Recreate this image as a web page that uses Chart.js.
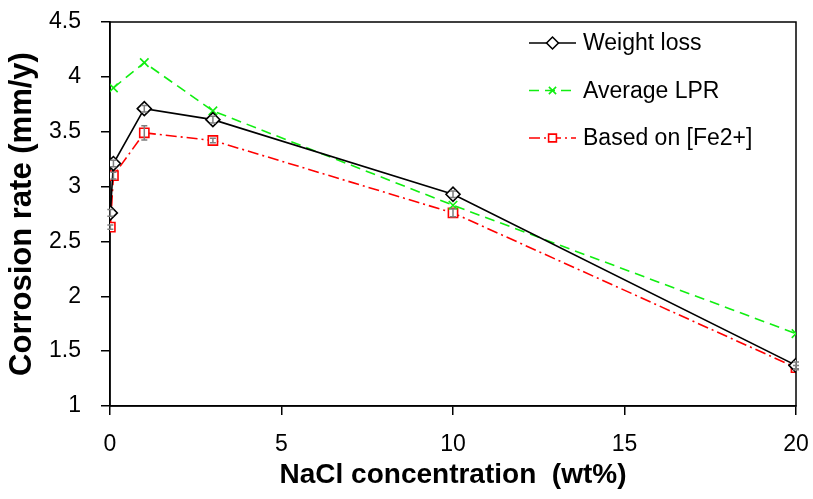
<!DOCTYPE html>
<html>
<head>
<meta charset="utf-8">
<script src="https://cdn.jsdelivr.net/npm/chart.js@4/dist/chart.umd.min.js"></script>
<style>
  html, body { margin: 0; padding: 0; background: #fff; }
  #wrap { width: 813px; height: 499px; }
</style>
</head>
<body>
<div id="wrap"><canvas id="c"></canvas></div>
<script>
// NaCl concentration (wt%) for each measurement
const concentrations = [0.01, 0.1, 1, 3, 10, 20];
const lprConcentrations = [0.1, 1, 3, 10, 20];

// Corrosion rates (mm/y)
const weightLoss = [2.76, 3.21, 3.71, 3.61, 2.93, 1.37];
const weightLossErr = [0.03, 0.03, 0.03, 0.03, 0.03, 0.03];
const averageLPR = [3.90, 4.13, 3.69, 2.83, 1.66];
const basedOnFe = [2.63, 3.10, 3.49, 3.42, 2.76, 1.35];
const basedOnFeErr = [0.02, 0.03, 0.065, 0.02, 0.035, 0.02];

const seriesLabels = ['Weight loss', 'Average LPR', 'Based on [Fe2+]'];
const xTicks = [0, 5, 10, 15, 20];
const yTicks = [1, 1.5, 2, 2.5, 3, 3.5, 4, 4.5];

const xTitle = 'NaCl concentration  (wt%)';
const yTitle = 'Corrosion rate (mm/y)';

const FONT = "'Liberation Sans', Arial, sans-serif";
const GREEN = '#11ee11';

const toPoints = (xs, ys) => xs.map((x, i) => ({ x: x, y: ys[i] }));

// Box around the plotting area
const frame = {
  id: 'frame',
  beforeDatasetsDraw(chart) {
    const { ctx, chartArea: a } = chart;
    ctx.save();
    ctx.strokeStyle = '#000';
    ctx.lineWidth = 1.5;
    ctx.strokeRect(a.left, a.top, a.right - a.left, a.bottom - a.top);
    ctx.restore();
  }
};

// Vertical error bars with caps, drawn over the markers
const errorBars = {
  id: 'errorBars',
  afterDatasetsDraw(chart) {
    const { ctx } = chart;
    const yScale = chart.scales.y;
    ctx.save();
    ctx.strokeStyle = '#7f7f7f';
    ctx.lineWidth = 1.5;
    chart.data.datasets.forEach((ds, di) => {
      if (!ds.errors) return;
      const meta = chart.getDatasetMeta(di);
      meta.data.forEach((pt, j) => {
        const e = ds.errors[j];
        const v = ds.data[j].y;
        const y1 = yScale.getPixelForValue(v + e);
        const y2 = yScale.getPixelForValue(v - e);
        ctx.beginPath();
        ctx.moveTo(pt.x, y1); ctx.lineTo(pt.x, y2);
        ctx.moveTo(pt.x - 3, y1); ctx.lineTo(pt.x + 3, y1);
        ctx.moveTo(pt.x - 3, y2); ctx.lineTo(pt.x + 3, y2);
        ctx.stroke();
      });
    });
    ctx.restore();
  }
};

// Legend placed inside the upper right corner of the plot
const insideLegend = {
  id: 'insideLegend',
  afterDraw(chart) {
    const { ctx, chartArea: a } = chart;
    ctx.save();
    chart.data.datasets.forEach((ds, i) => {
      const y = a.top + 21 + i * 47.5;
      const x0 = a.right - 267, x1 = a.right - 220, xm = (x0 + x1) / 2;
      ctx.strokeStyle = ds.borderColor;
      ctx.lineWidth = ds.borderWidth;
      ctx.setLineDash(ds.borderDash || []);
      ctx.beginPath();
      ctx.moveTo(x0, y); ctx.lineTo(x1, y);
      ctx.stroke();
      ctx.setLineDash([]);
      ctx.fillStyle = ds.pointBackgroundColor;
      ctx.strokeStyle = ds.pointBorderColor;
      ctx.lineWidth = ds.pointBorderWidth;
      Chart.helpers.drawPoint(ctx, {
        pointStyle: ds.pointStyle,
        radius: ds.pointRadius * 0.85,
        rotation: 0,
        borderWidth: ds.pointBorderWidth
      }, xm, y);
      ctx.fillStyle = '#000';
      ctx.font = "23px " + FONT;
      ctx.textAlign = 'left';
      ctx.textBaseline = 'middle';
      ctx.fillText(ds.label, a.right - 213, y + 1);
    });
    ctx.restore();
  }
};

const axisCommon = {
  border: { display: true, color: '#000', width: 1.5 },
  grid: { display: true, drawOnChartArea: false, drawTicks: true, tickLength: 9, color: '#000', lineWidth: 1.5 }
};

new Chart(document.getElementById('c'), {
  type: 'line',
  data: {
    datasets: [
      {
        label: seriesLabels[0],
        data: toPoints(concentrations, weightLoss),
        errors: weightLossErr,
        borderColor: '#000',
        borderWidth: 1.6,
        pointStyle: 'rectRot',
        pointRadius: 7,
        pointBorderWidth: 1.6,
        pointBackgroundColor: '#fff',
        pointBorderColor: '#000'
      },
      {
        label: seriesLabels[1],
        data: toPoints(lprConcentrations, averageLPR),
        borderColor: GREEN,
        borderWidth: 1.6,
        borderDash: [10, 6],
        pointStyle: 'crossRot',
        pointRadius: 6,
        pointBorderWidth: 1.6,
        pointBackgroundColor: GREEN,
        pointBorderColor: GREEN
      },
      {
        label: seriesLabels[2],
        data: toPoints(concentrations, basedOnFe),
        errors: basedOnFeErr,
        borderColor: '#ff0000',
        borderWidth: 1.6,
        borderDash: [11, 4, 2, 4],
        pointStyle: 'rect',
        pointRadius: 6.5,
        pointBorderWidth: 1.6,
        pointBackgroundColor: '#fff',
        pointBorderColor: '#ff0000'
      }
    ]
  },
  options: {
    responsive: true,
    maintainAspectRatio: false,
    animation: false,
    events: [],
    layout: { padding: { top: 22, right: 17, left: 0, bottom: 0 } },
    plugins: { legend: { display: false }, tooltip: { enabled: false } },
    elements: { line: { tension: 0 } },
    scales: {
      x: {
        ...axisCommon,
        type: 'linear',
        min: 0, max: 20,
        afterBuildTicks: s => { s.ticks = xTicks.map(v => ({ value: v })); },
        afterFit: s => { s.height = 93; s.paddingLeft = 0; s.paddingRight = 0; },
        ticks: { color: '#000', padding: 16, maxRotation: 0, font: { family: FONT, size: 23 },
                 callback: v => String(v) },
        title: { display: true, text: xTitle, color: '#000', padding: { top: 0, bottom: 7 },
                 font: { family: FONT, size: 28, weight: 'bold' } }
      },
      y: {
        ...axisCommon,
        type: 'linear',
        min: 1, max: 4.5,
        afterBuildTicks: s => { s.ticks = yTicks.map(v => ({ value: v })); },
        afterFit: s => { s.width = 110; s.paddingTop = 0; s.paddingBottom = 0; },
        ticks: { color: '#000', padding: 20, font: { family: FONT, size: 23 },
                 callback: v => String(v) },
        title: { display: true, text: yTitle, color: '#000', padding: { top: 4, bottom: 0 },
                 font: { family: FONT, size: 31, weight: 'bold' } }
      }
    }
  },
  plugins: [frame, errorBars, insideLegend]
});
</script>
</body>
</html>
